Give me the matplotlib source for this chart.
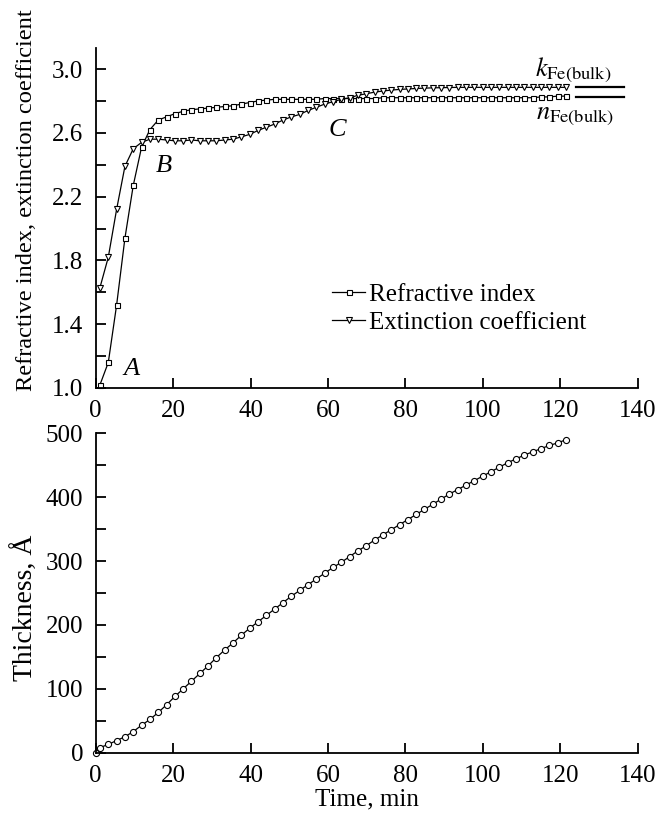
"""
Refractive index / extinction coefficient and thickness of an Fe film vs time.
"""

import matplotlib
matplotlib.use("Agg")
import matplotlib.pyplot as plt


# ----------------------------------------------------------------------
# DATA
# ----------------------------------------------------------------------

time_min = [
    1.1, 3.25, 5.4, 7.55, 9.7, 11.85, 14.0, 16.15, 18.3, 20.45,
    22.6, 24.75, 26.9, 29.05, 31.2, 33.35, 35.5, 37.65, 39.8, 41.95,
    44.1, 46.25, 48.4, 50.55, 52.7, 54.85, 57.0, 59.15, 61.3, 63.45,
    65.6, 67.75, 69.9, 72.05, 74.2, 76.35, 78.5, 80.65, 82.8, 84.95,
    87.1, 89.25, 91.4, 93.55, 95.7, 97.85, 100.0, 102.15, 104.3, 106.45,
    108.6, 110.75, 112.9, 115.05, 117.2, 119.35, 121.5,
]

refractive_index = [
    1.02, 1.16, 1.52, 1.94, 2.27, 2.51, 2.62, 2.68, 2.70, 2.72,
    2.735, 2.745, 2.75, 2.755, 2.76, 2.765, 2.77, 2.78, 2.79, 2.80,
    2.805, 2.81, 2.81, 2.81, 2.81, 2.81, 2.81, 2.815, 2.815, 2.815,
    2.815, 2.815, 2.815, 2.815, 2.82, 2.82, 2.82, 2.82, 2.82, 2.82,
    2.82, 2.82, 2.82, 2.82, 2.82, 2.82, 2.82, 2.82, 2.82, 2.82,
    2.82, 2.82, 2.82, 2.825, 2.825, 2.83, 2.83,
]

extinction_coeff = [
    1.63, 1.82, 2.12, 2.39, 2.50, 2.54, 2.56, 2.56, 2.555, 2.55,
    2.55, 2.555, 2.55, 2.55, 2.55, 2.555, 2.56, 2.575, 2.59, 2.615,
    2.635, 2.655, 2.68, 2.70, 2.715, 2.74, 2.76, 2.78, 2.795, 2.81,
    2.82, 2.835, 2.845, 2.855, 2.862, 2.868, 2.872, 2.875, 2.878, 2.88,
    2.882, 2.883, 2.884, 2.885, 2.885, 2.885, 2.885, 2.885, 2.885, 2.885,
    2.885, 2.885, 2.885, 2.885, 2.885, 2.885, 2.885,
]

thickness_time = [0.0] + time_min
thickness_A = [
    0, 8, 13, 19, 25, 33, 43, 52, 63, 75, 88,
    100, 112, 124, 136, 149, 161, 172, 184, 195, 205,
    215, 225, 235, 245, 254, 263, 272, 281, 290, 298,
    307, 316, 324, 333, 341, 349, 357, 365, 373, 381,
    389, 397, 405, 412, 419, 426, 433, 440, 447, 454,
    460, 466, 471, 476, 481, 485, 490,
]

# bulk reference levels and where their short bars are drawn
k_bulk = 2.887
n_bulk = 2.825
bulk_bar_x = [124.1, 136.5]

# ----------------------------------------------------------------------
# STYLE
# ----------------------------------------------------------------------

FONT = "Liberation Serif"
FS = 18
INK = "black"

plt.rcParams.update({
    "font.family": FONT,
    "mathtext.fontset": "stix",
    "font.size": FS,
    "axes.linewidth": 1.3,
})


def style_axes(ax):
    for side in ("top", "right"):
        ax.spines[side].set_visible(False)
    ax.tick_params(which="both", direction="in", length=7, width=1.3,
                   labelsize=FS, color=INK)
    ax.tick_params(axis="y", which="both", pad=9)
    ax.tick_params(axis="x", which="both", pad=9)


fig = plt.figure(figsize=(6.61, 8.17), dpi=100)

# ----------------------------------------------------------------------
# TOP PANEL: n and k
# ----------------------------------------------------------------------

ax1 = fig.add_axes([0.1448, 0.5251, 0.8197, 0.4158])
style_axes(ax1)

line_kw = dict(color=INK, lw=0.9, markerfacecolor="white",
               markeredgecolor=INK, markeredgewidth=0.8, clip_on=False)
ax1.plot(time_min, refractive_index, marker="s", markersize=3.6,
         label="Refractive index", **line_kw)
ax1.plot(time_min, extinction_coeff, marker="v", markersize=4.2,
         label="Extinction coefficient", **line_kw)

ax1.plot(bulk_bar_x, [k_bulk, k_bulk], color=INK, lw=1.6)
ax1.plot(bulk_bar_x, [n_bulk, n_bulk], color=INK, lw=1.6)
ax1.text(113.5, 2.954, r"$k_{\mathrm{Fe(bulk)}}$", fontsize=FS + 1,
         va="baseline", ha="left")
ax1.text(113.8, 2.682, r"$n_{\mathrm{Fe(bulk)}}$", fontsize=FS + 1,
         va="baseline", ha="left")

for lbl, x, y in (("A", 9.2, 1.116), ("B", 17.7, 2.389), ("C", 62.4, 2.616)):
    ax1.text(x, y, lbl, fontsize=FS + 1, style="italic",
             ha="center", va="center")

ax1.set_xlim(0, 140)
ax1.set_ylim(1.0, 3.13)
ax1.set_xticks(range(0, 141, 20))
ax1.set_yticks([1.0, 1.4, 1.8, 2.2, 2.6, 3.0])
ax1.set_yticks([1.2, 1.6, 2.0, 2.4, 2.8], minor=True)
ax1.set_yticklabels(["1.0", "1.4", "1.8", "2.2", "2.6", "3.0"])
ax1.set_ylabel("Refractive index, extinction coefficient", fontsize=17.6)
ax1.yaxis.set_label_coords(-0.108, 0.552)

ax1.legend(loc="upper left", bbox_to_anchor=(0.4356, 0.307), frameon=False,
           fontsize=FS, handlelength=1.35, handletextpad=0.15,
           labelspacing=0.22, borderpad=0, borderaxespad=0)

# ----------------------------------------------------------------------
# BOTTOM PANEL: thickness
# ----------------------------------------------------------------------

ax2 = fig.add_axes([0.1448, 0.0787, 0.8197, 0.3909])
style_axes(ax2)

ax2.plot(thickness_time, thickness_A, color=INK, lw=0.9, marker="o",
         markersize=4.4, markerfacecolor="white", markeredgecolor=INK,
         markeredgewidth=0.8, clip_on=False)

ax2.set_xlim(0, 140)
ax2.set_ylim(0, 500)
ax2.set_xticks(range(0, 141, 20))
ax2.set_yticks(range(0, 501, 100))
ax2.set_yticks(range(50, 500, 100), minor=True)
ax2.set_xlabel("Time, min", fontsize=FS, labelpad=1)
ax2.set_ylabel("Thickness, Å", fontsize=20)
ax2.yaxis.set_label_coords(-0.104, 0.453)

fig.savefig("out.png", dpi=100, facecolor="white")
